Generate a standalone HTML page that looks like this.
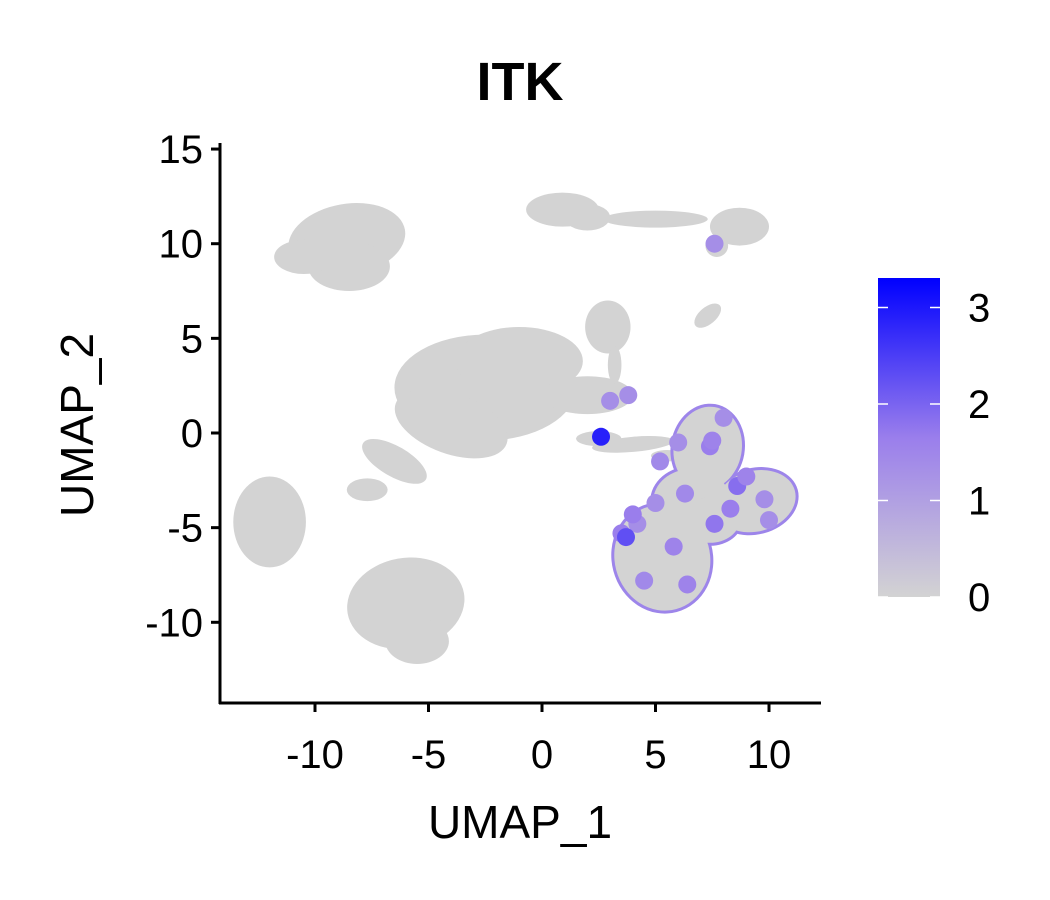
<!DOCTYPE html>
<html><head><meta charset="utf-8"><style>
body{margin:0;background:#fff;}
svg{display:block;font-family:"Liberation Sans",Arial,sans-serif;}
</style></head><body>
<svg id="chart" width="1050" height="900" viewBox="0 0 1050 900">
<defs><linearGradient id="cg" x1="0" y1="1" x2="0" y2="0"><stop offset="0" stop-color="#d3d3d3"/><stop offset="0.5" stop-color="#9a7eec"/><stop offset="1" stop-color="#0000ff"/></linearGradient></defs>
<text x="520" y="100" font-size="54" font-weight="bold" text-anchor="middle">ITK</text>
<g id="clusters"></g>
<g id="tcells"></g>
<g id="points"></g>
<g id="axes"></g>
<text x="520" y="838" font-size="46" text-anchor="middle">UMAP_1</text>
<text transform="translate(93,425) rotate(-90)" font-size="46" text-anchor="middle">UMAP_2</text>
<g>
<rect x="878" y="278" width="62" height="319" fill="url(#cg)"/>
<g id="legend"></g>
</g>
</svg>
<script>
const xTicks=[-10,-5,0,5,10];
const yTicks=[15,10,5,0,-5,-10];
const legendTicks=[0,1,2,3];
// grey clusters: center x, center y, radius x, radius y, rotation
const clusterX=[-8.6,-8.5,-10.5,0.9,2.0,5.0,8.7,7.7,7.3,-2.5,-4.0,-1.0,2.0,-6.5,-7.7,2.9,3.2,-12,-6,-5.5,4.0,2.5,5.5];
const clusterY=[10.2,8.8,9.3,11.8,11.4,11.3,10.9,9.9,6.2,2.4,0.5,3.8,2.0,-1.5,-3.0,5.6,3.6,-4.7,-9.0,-11.0,-0.6,-0.3,-1.2];
const clusterRX=[2.6,1.8,1.3,1.6,1.0,2.3,1.3,0.5,0.7,4.0,2.6,2.8,2.0,1.6,0.9,1.0,0.3,1.6,2.6,1.4,1.8,1.0,0.7];
const clusterRY=[1.9,1.3,0.9,0.9,0.7,0.45,1.0,0.6,0.45,2.8,1.6,1.8,1.0,0.8,0.6,1.4,1.0,2.4,2.4,1.2,0.4,0.4,0.3];
const clusterRot=[-10,0,0,0,0,0,0,0,-40,0,20,0,0,30,0,0,0,0,-10,0,-5,0,0];
// T-cell cluster lobes
const tX=[5.3,7.3,9.4,6.6,7.4];
const tY=[-6.6,-0.8,-3.6,-3.6,-4.6];
const tRX=[2.1,1.5,1.8,1.7,1.3];
const tRY=[2.8,2.2,1.6,1.7,1.2];
const tRot=[-15,10,-15,0,0];
// expressing cells: x, y, value
const exprX=[3.5,5.0,4.2,8.0,6.0,7.4,7.5,9.8,3.8,7.6,4.0,4.5,6.4,7.6,10.0,8.6,6.3,2.6,3.0,5.8,3.7,8.3,5.2,9.0];
const exprY=[-5.3,-3.7,-4.8,0.8,-0.5,-0.7,-0.4,-3.5,2.0,10.0,-4.3,-7.8,-8.0,-4.8,-4.6,-2.8,-3.2,-0.2,1.7,-6.0,-5.5,-4.0,-1.5,-2.3];
const exprV=[1.6,1.3,1.3,1.3,1.3,1.6,1.5,1.3,1.3,1.3,1.6,1.4,1.5,1.7,1.3,1.8,1.4,2.8,1.3,1.5,2.2,1.6,1.4,1.5];
const xs=v=>542+v*22.7, ys=v=>433-v*18.93;
const NS="http://www.w3.org/2000/svg";
function mk(t,a,p){const e=document.createElementNS(NS,t);for(const k in a)e.setAttribute(k,a[k]);p.appendChild(e);return e;}
function col(v){const t=Math.min(1,v/3.2);
 const s=[[211,211,211],[154,126,236],[0,0,255]];
 const f=t*2,i=Math.min(1,Math.floor(f)),u=f-i;const a=s[i],b=s[i+1];
 return `rgb(${Math.round(a[0]+(b[0]-a[0])*u)},${Math.round(a[1]+(b[1]-a[1])*u)},${Math.round(a[2]+(b[2]-a[2])*u)})`;}
const cg=document.getElementById('clusters');
for(let i=0;i<clusterX.length;i++){
 const e=mk('ellipse',{cx:xs(clusterX[i]),cy:ys(clusterY[i]),rx:clusterRX[i]*22.7,ry:clusterRY[i]*18.93,fill:'#d3d3d3',transform:`rotate(${clusterRot[i]} ${xs(clusterX[i])} ${ys(clusterY[i])})`},cg);
 
 
}
const tg=document.getElementById('tcells');
for(let pass=0;pass<2;pass++)for(let i=0;i<tX.length;i++){
 const pad=pass===0?3:0;
 const e=mk('ellipse',{cx:xs(tX[i]),cy:ys(tY[i]),rx:tRX[i]*22.7+pad,ry:tRY[i]*18.93+pad,fill:pass===0?'#9d85ea':'#d3d3d3',transform:`rotate(${tRot[i]} ${xs(tX[i])} ${ys(tY[i])})`},tg);
 
 
}
const pg=document.getElementById('points');
for(let i=0;i<exprX.length;i++){
 const c=mk('circle',{cx:xs(exprX[i]),cy:ys(exprY[i]),r:9,fill:col(exprV[i])},pg);
 
 
}
const ag=document.getElementById('axes');
mk('line',{x1:220,y1:143,x2:220,y2:704,stroke:'#000','stroke-width':3},ag);
mk('line',{x1:219,y1:703,x2:821,y2:703,stroke:'#000','stroke-width':3},ag);
xTicks.forEach(v=>{mk('line',{x1:xs(v),y1:703,x2:xs(v),y2:712,stroke:'#000','stroke-width':3},ag);
 const t=mk('text',{x:xs(v),y:768,'font-size':40,'text-anchor':'middle'},ag);t.textContent=v;
 });
yTicks.forEach(v=>{mk('line',{x1:211,y1:ys(v),x2:220,y2:ys(v),stroke:'#000','stroke-width':3},ag);
 const t=mk('text',{x:203,y:ys(v)+14,'font-size':40,'text-anchor':'end'},ag);t.textContent=v;
 });
const lg=document.getElementById('legend');
legendTicks.forEach(v=>{const y=597-v*96.5;
 mk('line',{x1:878,y1:y,x2:888,y2:y,stroke:'#fff','stroke-width':1.5},lg);
 mk('line',{x1:930,y1:y,x2:940,y2:y,stroke:'#fff','stroke-width':1.5},lg);
 const t=mk('text',{x:968,y:y+14,'font-size':40},lg);t.textContent=v;
 });
</script>
</body></html>
